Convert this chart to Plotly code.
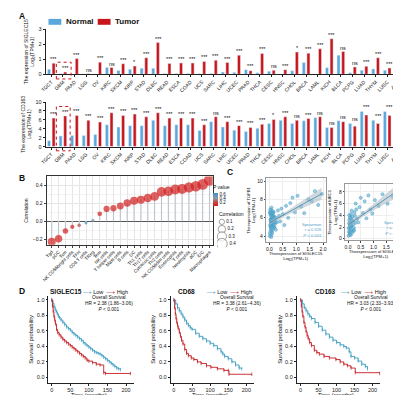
import numpy as np
import plotly.graph_objects as go

W, H = 401, 395
FONT = "Arial, Liberation Sans, sans-serif"
BLUE = "#5AA7DB"
RED = "#C8151B"
KM_BLUE = "#3A9BBF"
KM_RED = "#C41E24"
PT_BLUE = "#4FA3C9"


def dx(a, b):
    return [a / W, b / W]


def dy(top, bottom):
    return [1 - bottom / H, 1 - top / H]


def px(x):
    return x / W


def py(y):
    return 1 - y / H


# ---------------- Panel A data ----------------
cancers = ["TGCT", "GBM", "PAAD", "LGG", "OV", "KIRC", "SKCM", "KIRP", "STAD", "DLBC",
           "READ", "ESCA", "COAD", "UCS", "SARC", "LIHC", "UCEC", "PRAD", "THCA", "CESC",
           "HNSC", "CHOL", "BRCA", "LAML", "KICH", "BLCA", "PCPG", "LUAD", "THYM", "LUSC", "ACC"]
siglec15_normal = [0.33, 0.03, 0.02, 0.02, 0.02, 0.45, 0.25, 0.33, 0.40, 0.40,
                   0.05, 0.05, 0.05, 0.04, 0.05, 0.15, 0.13, 0.31, 0.10, 0.20,
                   0.02, 0.24, 0.78, 0.01, 0.44, 1.27, 0.11, 0.27, 0.36, 0.27, 0.18]
siglec15_tumor = [0.74, 0.15, 1.04, 0.03, 0.80, 0.45, 0.70, 0.55, 1.10, 2.10,
                  0.72, 0.75, 0.75, 0.85, 0.93, 0.78, 1.27, 0.24, 1.38, 0.27,
                  0.31, 1.47, 1.40, 1.69, 2.36, 1.51, 0.49, 0.53, 1.09, 0.42, 0.11]
siglec15_sig = ["***", "***", "***", "ns", "***", "ns", "***", "*", "***", "***",
                "***", "***", "***", "***", "***", "***", "***", "***", "***", "ns",
                "***", "*", "***", "***", "***", "ns", "ns", "***", "***", "***", "***"]
cd163_normal = [1.33, 2.4, 2.5, 2.5, 2.7, 4.9, 4.4, 4.7, 4.7, 5.9,
                4.7, 4.9, 4.9, 3.6, 5.6, 4.4, 3.7, 3.4, 4.1, 5.2,
                5.9, 5.2, 5.8, 6.5, 4.3, 5.8, 5.2, 7.9, 5.9, 7.9, 5.4]
cd163_tumor = [6.4, 6.9, 7.0, 5.9, 5.5, 7.6, 7.0, 7.3, 6.7, 7.6,
               6.4, 6.4, 6.4, 4.9, 6.7, 5.6, 4.7, 4.3, 5.0, 6.1,
               6.7, 5.9, 6.3, 6.7, 4.3, 5.6, 4.6, 7.1, 5.2, 7.0, 4.4]
cd163_sig = ["***", "***", "***", "***", "***", "***", "***", "***", "***", "***",
             "***", "***", "***", "***", "ns", "***", "***", "***", "***", "*",
             "***", "ns", "***", "ns", "ns", "ns", "ns", "***", "***", "***", "***"]
group_names = ["Normal", "Tumor"]

# ---------------- Panel B data ----------------
cells = ["Tgd", "pDC", "Tcm", "NK CD56bright cells", "TFH", "CD8 T cells", "TReg", "Tem",
         "NK cells", "T helper cells", "Mast cells", "B cells", "DC", "Th1 cells", "Th17 cells",
         "Cytotoxic cells", "Th2 cells", "NK CD56dim cells", "Eosinophils", "T cells",
         "Neutrophils", "aDC", "iDC", "Macrophages"]
cell_corr = [-0.23, -0.196, -0.11, -0.065, -0.047, -0.02, 0.01, 0.08, 0.135, 0.142, 0.167, 0.20,
             0.225, 0.236, 0.255, 0.273, 0.324, 0.331, 0.35, 0.357, 0.375, 0.386, 0.407, 0.455]
cell_p = [0.0, 0.0, 0.0, 0.02, 0.18, 0.62, 0.5, 0.01, 0.0, 0.0, 0.0, 0.0,
          0.0, 0.0, 0.0, 0.0, 0.0, 0.0, 0.0, 0.0, 0.0, 0.0, 0.0, 0.0]
corr_legend = [0.1, 0.2, 0.3, 0.4]
p_ticks = [0.2, 0.4, 0.6]

# ---------------- Panel C data ----------------
c1_siglec15 = [0.02, 0.04, 0.06, 0.08, 0.10, 0.12, 0.03, 0.05, 0.07, 0.09,
               0.11, 0.13, 0.15, 0.02, 0.04, 0.06, 0.08, 0.10, 0.14, 0.16,
               0.18, 0.20, 0.03, 0.05, 0.07, 0.09, 0.12, 0.17, 0.22, 0.25,
               0.04, 0.06, 0.08, 0.10, 0.13, 0.19, 0.02, 0.05, 0.08, 0.11,
               0.15, 0.21, 0.03, 0.06, 0.09, 0.12, 0.16, 0.24, 0.28, 0.32,
               0.36, 0.40, 0.45, 0.50, 0.56, 0.62, 0.70, 0.78, 0.86, 0.95,
               1.05, 1.18, 1.30, 1.45, 1.58, 1.70, 1.82, 1.95]
c1_tgfb1 = [4.0, 4.6, 5.1, 5.6, 6.0, 6.5, 5.2, 5.8, 6.8, 4.2,
            4.8, 5.4, 6.2, 6.6, 5.0, 5.7, 6.3, 4.4, 5.1, 5.9,
            6.1, 5.3, 6.9, 5.6, 3.9, 6.4, 5.6, 4.9, 5.5, 6.0,
            6.3, 5.4, 7.1, 4.6, 6.7, 5.0, 4.3, 5.8, 6.0, 5.3,
            6.1, 5.7, 6.5, 4.9, 5.9, 5.2, 6.6, 4.7, 5.5, 6.8,
            6.2, 5.6, 7.0, 6.4, 5.2, 7.3, 6.0, 7.6, 8.2, 6.6,
            8.4, 7.2, 6.5, 8.0, 7.8, 8.9, 7.4, 8.6]
c2_siglec15 = [0.02, 0.04, 0.06, 0.08, 0.10, 0.12, 0.14, 0.16, 0.18, 0.20,
               0.03, 0.05, 0.07, 0.09, 0.11, 0.13, 0.15, 0.17, 0.22, 0.25,
               0.04, 0.06, 0.08, 0.10, 0.12, 0.19, 0.24, 0.28, 0.32, 0.36,
               0.05, 0.09, 0.14, 0.21, 0.27, 0.30, 0.40, 0.45, 0.50, 0.58,
               0.65, 0.72, 0.80, 0.88, 0.95, 1.05, 1.20, 1.35, 1.55, 1.75,
               1.95, 2.15]
c2_mrc1 = [0.5, 1.2, 2.0, 2.8, 1.6, 3.5, 2.2, 1.0, 3.0, 2.5,
           1.8, 3.2, 0.8, 2.4, 4.2, 1.4, 2.9, 3.8, 1.9, 4.5,
           2.6, 1.1, 3.6, 0.6, 2.1, 3.1, 1.5, 2.7, 5.0, 3.4,
           4.0, 2.3, 4.8, 1.3, 3.9, 6.0, 2.8, 5.4, 7.0, 4.4,
           6.4, 3.5, 7.4, 5.0, 4.3, 6.6, 5.6, 7.6, 6.0, 7.2,
           6.8, 8.2]

# ---------------- Panel D data ----------------
d1_low_t = [0, 3, 6, 9, 12, 15, 18, 21, 25, 30, 35, 40, 45, 50, 55, 60, 65, 70, 75, 80, 85, 90, 95,
            100, 105, 110, 115, 120, 125, 130, 135, 140, 145, 150, 155, 160, 165, 170, 175, 180, 185]
d1_low_s = [1, 0.96, 0.92, 0.88, 0.85, 0.82, 0.79, 0.77, 0.74, 0.71, 0.68, 0.65, 0.63, 0.61, 0.58,
            0.56, 0.54, 0.52, 0.5, 0.48, 0.45, 0.43, 0.41, 0.39, 0.37, 0.35, 0.33, 0.32, 0.31, 0.3,
            0.28, 0.26, 0.24, 0.22, 0.2, 0.18, 0.16, 0.14, 0.12, 0.11, 0.1]
d1_high_t = [0, 2, 4, 6, 8, 10, 13, 16, 20, 25, 30, 35, 40, 45, 50, 55, 60, 65, 70, 75, 80, 85, 90,
             95, 100, 110, 120, 130, 140, 145, 212]
d1_high_s = [1, 0.92, 0.85, 0.79, 0.74, 0.69, 0.62, 0.58, 0.55, 0.52, 0.49, 0.47, 0.45, 0.43, 0.41,
             0.39, 0.37, 0.35, 0.33, 0.31, 0.29, 0.27, 0.25, 0.22, 0.21, 0.19, 0.17, 0.16, 0.06,
             0.05, 0.05]
d2_low_t = [0, 5, 10, 15, 20, 25, 30, 35, 40, 45, 50, 60, 70, 80, 90, 100, 110, 120, 130, 135, 140,
            150, 160, 170, 180, 187]
d2_low_s = [1, 0.95, 0.9, 0.86, 0.82, 0.78, 0.74, 0.7, 0.67, 0.64, 0.62, 0.57, 0.53, 0.5, 0.47,
            0.44, 0.41, 0.37, 0.33, 0.3, 0.27, 0.24, 0.2, 0.16, 0.12, 0.11]
d2_high_t = [0, 2, 4, 6, 8, 10, 12, 15, 18, 21, 25, 30, 35, 40, 48, 55, 65, 75, 90, 102, 120, 138,
             150, 152, 215]
d2_high_s = [1, 0.9, 0.82, 0.76, 0.71, 0.67, 0.63, 0.58, 0.53, 0.48, 0.43, 0.36, 0.31, 0.28, 0.25,
             0.23, 0.2, 0.18, 0.15, 0.13, 0.11, 0.09, 0.09, 0.04, 0.04]
d3_low_t = [0, 5, 10, 15, 20, 25, 30, 40, 50, 60, 70, 80, 90, 100, 110, 120, 127, 135, 140, 150,
            160, 170, 180, 186]
d3_low_s = [1, 0.95, 0.9, 0.86, 0.82, 0.79, 0.76, 0.71, 0.66, 0.61, 0.56, 0.52, 0.48, 0.45, 0.42,
            0.4, 0.38, 0.33, 0.27, 0.25, 0.21, 0.17, 0.14, 0.11]
d3_high_t = [0, 2, 4, 6, 9, 12, 15, 18, 21, 25, 30, 38, 45, 52, 65, 80, 98, 110, 120, 130, 140, 152,
             220]
d3_high_s = [1, 0.92, 0.85, 0.79, 0.71, 0.65, 0.59, 0.54, 0.5, 0.45, 0.41, 0.35, 0.32, 0.3, 0.27,
             0.25, 0.23, 0.2, 0.17, 0.15, 0.12, 0.06, 0.05]
km_titles = ["SIGLEC15", "CD68", "CD163"]
km_hr = ["HR = 2.38 (1.86\u22123.06)", "HR = 3.38 (2.61\u22124.36)", "HR = 3.03 (2.33\u22123.93)"]

fig = go.Figure()

# ---------- Panel A bars ----------
fig.add_bar(x=cancers, y=siglec15_normal, name="Normal", marker_color=BLUE,
            xaxis="x", yaxis="y", showlegend=False)
fig.add_bar(x=cancers, y=siglec15_tumor, name="Tumor", marker_color=RED,
            xaxis="x", yaxis="y", showlegend=False)
fig.add_bar(x=cancers, y=cd163_normal, marker_color=BLUE, xaxis="x2", yaxis="y2", showlegend=False)
fig.add_bar(x=cancers, y=cd163_tumor, marker_color=RED, xaxis="x2", yaxis="y2", showlegend=False)

annotations = []
shapes = []
for c, n, t, s in zip(cancers, siglec15_normal, siglec15_tumor, siglec15_sig):
    annotations.append(dict(x=c, y=max(n, t), xref="x", yref="y", text=s, showarrow=False,
                            yanchor="bottom", xshift=2.5, yshift=-1, font=dict(size=5.5)))
for c, n, t, s in zip(cancers, cd163_normal, cd163_tumor, cd163_sig):
    annotations.append(dict(x=c, y=max(n, t), xref="x2", yref="y2", text=s, showarrow=False,
                            yanchor="bottom", xshift=2.5, yshift=-1, font=dict(size=5.5)))

# group key for panel A (Normal / Tumor)
for (name, col), kx in zip(zip(group_names, (BLUE, RED)), (35, 85)):
    shapes.append(dict(type="rect", xref="paper", yref="paper", x0=px(kx), x1=px(kx + 13),
                       y0=py(14), y1=py(8), fillcolor=col, line=dict(width=0)))
    annotations.append(dict(x=px(kx + 16), y=py(11), xref="paper", yref="paper", text=f"<b>{name}</b>",
                            showarrow=False, xanchor="left", yanchor="middle", font=dict(size=8)))

# ---------- Panel B lollipop ----------
SIZEREF = 0.455 / 64.0
fig.add_bar(x=cells, y=cell_corr, width=0.12, marker_color="#8C8C8C", xaxis="x3", yaxis="y3",
            showlegend=False)
P_SCALE = [[0, "#D21F1F"], [0.3, "#BF4A4A"], [0.6, "#8E9DAA"], [1, "#3C8FC7"]]
fig.add_scatter(x=cells, y=cell_corr, mode="markers", xaxis="x3", yaxis="y3", showlegend=False,
                marker=dict(size=[abs(v) for v in cell_corr], sizemode="area", sizeref=SIZEREF,
                            sizemin=1.5, color=cell_p, colorscale=P_SCALE, cmin=0, cmax=0.65,
                            line=dict(width=0),
                            colorbar=dict(x=px(202), xanchor="left", y=py(198), yanchor="bottom",
                                          len=24, lenmode="pixels", thickness=5,
                                          tickvals=p_ticks, ticktext=[f"{v:.1f}" for v in p_ticks],
                                          tickfont=dict(size=4.5), ticks="", outlinewidth=0,
                                          xpad=0, ypad=0,
                                          title=dict(text="P value", font=dict(size=5), side="top"))))
# correlation size legend
fig.add_scatter(x=[0.18] * len(corr_legend), y=[3.5, 2.5, 1.5, 0.5], mode="markers+text",
                text=[f"{v:.1f}" for v in corr_legend], textposition="middle right",
                textfont=dict(size=4.5), xaxis="x6", yaxis="y6", showlegend=False,
                marker=dict(size=corr_legend, sizemode="area", sizeref=SIZEREF,
                            color="white", line=dict(color="#222", width=0.6)))
annotations.append(dict(x=0, y=4.6, xref="x6", yref="y6", text="Correlation", showarrow=False,
                        xanchor="left", yanchor="middle", font=dict(size=5)))


# ---------- Panel C scatter ----------
def add_scatter_panel(xs, ys, xa, ya, rtext):
    xs = np.asarray(xs, float)
    ys = np.asarray(ys, float)
    fig.add_scatter(x=xs, y=ys, mode="markers", xaxis=xa, yaxis=ya, showlegend=False,
                    marker=dict(size=3.2, color="rgba(79,163,201,0.55)",
                                line=dict(color=PT_BLUE, width=0.5)))
    b, a = np.polyfit(xs, ys, 1)
    n = len(xs)
    resid = ys - (a + b * xs)
    s = np.sqrt(np.sum(resid ** 2) / (n - 2))
    gx = np.linspace(xs.min(), xs.max(), 60)
    se = s * np.sqrt(1 / n + (gx - xs.mean()) ** 2 / np.sum((xs - xs.mean()) ** 2))
    fit = a + b * gx
    fig.add_scatter(x=gx, y=fit + 1.97 * se, mode="lines", line=dict(width=0), xaxis=xa, yaxis=ya,
                    showlegend=False, hoverinfo="skip")
    fig.add_scatter(x=gx, y=fit - 1.97 * se, mode="lines", line=dict(width=0), fill="tonexty",
                    fillcolor="rgba(170,185,195,0.55)", xaxis=xa, yaxis=ya, showlegend=False,
                    hoverinfo="skip")
    fig.add_scatter(x=gx, y=fit, mode="lines", line=dict(color="#3F86B0", width=0.8),
                    xaxis=xa, yaxis=ya, showlegend=False)
    annotations.append(dict(x=0.97, y=0.04, xref=f"{xa} domain", yref=f"{ya} domain",
                            text=f"Spearman<br>{rtext}<br><i>P</i> < 0.001", showarrow=False,
                            xanchor="right", yanchor="bottom", align="right",
                            font=dict(size=4.2, color=PT_BLUE)))
    annotations.append(dict(x=0.5, y=0, xref=f"{xa} domain", yref=f"{ya} domain",
                            text="Theexpression of SIGLEC15<br>Log<sub>2</sub>(TPM+1)",
                            showarrow=False, xanchor="center", yanchor="top", yshift=-7,
                            font=dict(size=4.2)))


add_scatter_panel(c1_siglec15, c1_tgfb1, "x4", "y4", "r = 0.326")
add_scatter_panel(c2_siglec15, c2_mrc1, "x5", "y5", "r = 0.401")

# ---------- Panel D KM ----------
km = [(d1_low_t, d1_low_s, d1_high_t, d1_high_s),
      (d2_low_t, d2_low_s, d2_high_t, d2_high_s),
      (d3_low_t, d3_low_s, d3_high_t, d3_high_s)]
for i, (lt, ls, ht, hs) in enumerate(km):
    xa, ya = f"x{7 + i}", f"y{7 + i}"
    for tt, ss, col in ((lt, ls, KM_BLUE), (ht, hs, KM_RED)):
        fig.add_scatter(x=tt, y=ss, mode="lines+markers", line=dict(color=col, width=0.9, shape="hv"),
                        marker=dict(symbol="line-ns-open", size=2.5, line=dict(color=col, width=0.7)),
                        xaxis=xa, yaxis=ya, showlegend=False)
    annotations.append(dict(x=0.47, y=0, xref=f"x{7 + i} domain", yref=f"y{7 + i} domain",
                            text="Time (months)", showarrow=False, xanchor="center",
                            yanchor="middle", yshift=-12.5, font=dict(size=5.6)))

# ---------------- layout ----------------
tick_small = dict(size=5.5, color="#222")
common_line = dict(showline=True, linecolor="#222", linewidth=0.8, ticks="outside", ticklen=2,
                   tickwidth=0.7, tickcolor="#222", zeroline=False, showgrid=False)
c_axis = dict(tickfont=dict(size=5), showline=True, mirror=True, linecolor="#999", linewidth=0.6,
              ticks="outside", ticklen=1.5, showgrid=True, gridcolor="#EEEEEE", zeroline=False)

layout = dict(
    width=W, height=H, margin=dict(l=0, r=0, t=0, b=0),
    paper_bgcolor="white", plot_bgcolor="white",
    font=dict(family=FONT, color="#111", size=6),
    barmode="group", bargap=0.2, bargroupgap=0.35, showlegend=False,
    # A top
    xaxis=dict(domain=dx(32, 396.5), anchor="y", type="category", range=[-0.5, 30.5],
               tickangle=-45, tickfont=dict(size=5), **common_line),
    yaxis=dict(domain=dy(18.3, 64.3), anchor="x", range=[0, 3], dtick=1, tickfont=tick_small,
               title=dict(text="The expression of SIGLEC15<br>Log<sub>2</sub>(TPM+1)",
                          font=dict(size=5), standoff=3), **common_line),
    # A bottom
    xaxis2=dict(domain=dx(32, 396.5), anchor="y2", type="category", range=[-0.5, 30.5],
                tickangle=-45, tickfont=dict(size=5), **common_line),
    yaxis2=dict(domain=dy(92.5, 137.7), anchor="x2", range=[0, 10], dtick=2, tickfont=tick_small,
                title=dict(text="The expression of CD163<br>Log<sub>2</sub>(TPM+1)",
                           font=dict(size=5), standoff=3), **common_line),
    # B
    xaxis3=dict(domain=dx(33, 201.7), anchor="y3", type="category", range=[-0.76, 23.46],
                tickangle=-45, tickfont=dict(size=4.6), showline=True, mirror=True,
                linecolor="#333", linewidth=0.8, ticks="outside", ticklen=2, tickwidth=0.6,
                showgrid=True, gridcolor="#E6E6E6", gridwidth=0.6, zeroline=False),
    yaxis3=dict(domain=dy(168, 237.3), anchor="x3", range=[-0.262, 0.495],
                tickvals=[-0.2, 0, 0.2, 0.4], ticktext=["\u22120.2", "0.0", "0.2", "0.4"],
                tickfont=dict(size=5), showline=True, mirror=True, linecolor="#333", linewidth=0.8,
                ticks="outside", ticklen=2, tickwidth=0.6, showgrid=True, gridcolor="#E6E6E6",
                gridwidth=0.6, minor=dict(dtick=0.1, showgrid=True, gridcolor="#F2F2F2"),
                zeroline=True, zerolinecolor="#555", zerolinewidth=0.6,
                title=dict(text="Correlation", font=dict(size=5), standoff=3)),
    # C left
    xaxis4=dict(domain=dx(256, 317), anchor="y4", range=[-0.12, 2.12], tickvals=[0, 0.5, 1, 1.5, 2],
                ticktext=["0.0", "0.5", "1.0", "1.5", "2.0"], **c_axis),
    yaxis4=dict(domain=dy(170, 235), anchor="x4", range=[3.3, 10.3], tickvals=[4, 6, 8, 10],
                title=dict(text="Theexpression of TGFB1<br>Log<sub>2</sub>(TPM+1)",
                           font=dict(size=4.2), standoff=1), **c_axis),
    # C right
    xaxis5=dict(domain=dx(336, 400), anchor="y5", range=[-0.12, 2.35], tickvals=[0, 0.5, 1, 1.5, 2],
                ticktext=["0.0", "0.5", "1.0", "1.5", "2.0"], **c_axis),
    yaxis5=dict(domain=dy(176, 233), anchor="x5", range=[-0.3, 9.3], tickvals=[0, 2, 4, 6, 8],
                title=dict(text="Theexpression of MRC1<br>Log<sub>2</sub>(TPM+1)",
                           font=dict(size=4.2), standoff=1), **c_axis),
    # correlation size legend
    xaxis6=dict(domain=dx(206, 234), anchor="y6", range=[0, 1], visible=False),
    yaxis6=dict(domain=dy(203, 240), anchor="x6", range=[0, 5], visible=False),
)

km_dom = [(35, 122, -8.7, 222), (159, 244, -9.0, 222), (287, 372, -11.0, 222)]
for i, (a, b, r0, r1) in enumerate(km_dom):
    layout[f"xaxis{7 + i}"] = dict(domain=dx(a, b), anchor=f"y{7 + i}", range=[r0, r1],
                                   tickvals=[0, 50, 100, 150, 200], tickfont=tick_small,
                                   **common_line)
    layout[f"yaxis{7 + i}"] = dict(domain=dy(289.5, 377.5), anchor=f"x{7 + i}", range=[-0.07, 1.05],
                                   tickvals=[0, 0.2, 0.4, 0.6, 0.8, 1.0],
                                   ticktext=["0.0", "0.2", "0.4", "0.6", "0.8", "1.0"],
                                   tickfont=tick_small,
                                   title=dict(text="Survival probability", font=dict(size=5.8),
                                              standoff=2),
                                   **common_line)

km_title_x = [35, 164, 304]
km_leg_x = [68, 194, 330]
km_txt_x = [96, 226, 362]
for i in range(3):
    annotations.append(dict(x=px(km_title_x[i]), y=py(285), xref="paper", yref="paper",
                            text=f"<b>{km_titles[i]}</b>", showarrow=False, xanchor="left",
                            yanchor="middle", font=dict(size=6.5)))
    annotations.append(dict(x=px(km_leg_x[i]), y=py(285.5), xref="paper", yref="paper",
                            text=(f"<span style='color:{KM_BLUE}'>\u2014+</span> Low  "
                                  f"<span style='color:{KM_RED}'>\u2014+</span> High"),
                            showarrow=False, xanchor="left", yanchor="middle", font=dict(size=5.5)))
    annotations.append(dict(x=px(km_txt_x[i]), y=py(297.5), xref="paper", yref="paper",
                            text=f"Overall Survival<br>{km_hr[i]}<br><i>P</i> < 0.001",
                            showarrow=False, xanchor="center", yanchor="middle", align="center",
                            font=dict(size=4.8)))

for letter, lx, ly in (("A", 3, 5), ("B", 3, 170), ("C", 214, 163), ("D", 3, 284)):
    annotations.append(dict(x=px(lx), y=py(ly), xref="paper", yref="paper", text=f"<b>{letter}</b>",
                            showarrow=False, xanchor="left", yanchor="middle", font=dict(size=8.5)))

shapes += [
    dict(type="rect", xref="paper", yref="paper", x0=px(43), x1=px(58), y0=py(69), y1=py(52),
         line=dict(color=RED, width=1, dash="dot")),
    dict(type="rect", xref="paper", yref="paper", x0=px(43), x1=px(57), y0=py(142), y1=py(97),
         line=dict(color=RED, width=1, dash="dot")),
]

layout["annotations"] = annotations
layout["shapes"] = shapes
fig.update_layout(**layout)
fig.write_html("out.html")
